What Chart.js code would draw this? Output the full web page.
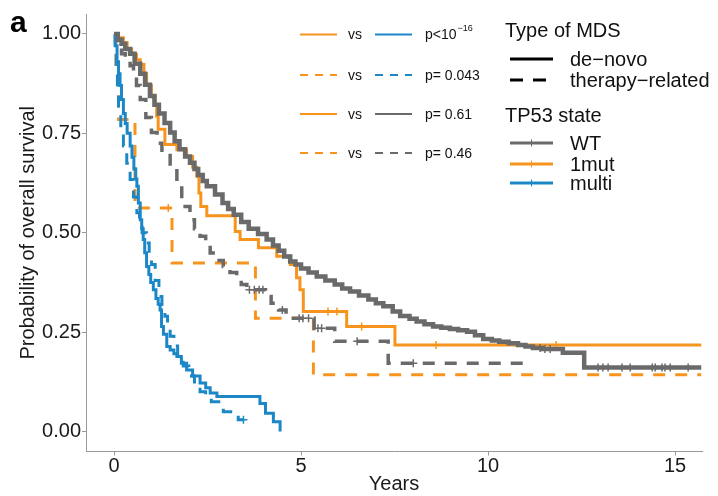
<!DOCTYPE html>
<html>
<head>
<meta charset="utf-8">
<script src="https://cdn.jsdelivr.net/npm/chart.js@4.4.1/dist/chart.umd.min.js"></script>
<style>
  html, body { margin: 0; padding: 0; background: #fff; }
  #wrap { width: 718px; height: 496px; position: relative; }
</style>
</head>
<body>
<div id="wrap"><canvas id="kmChart" width="718" height="496"></canvas></div>
<script>
// Kaplan-Meier estimates: [years, survival]
const wtDeNovo = [[0,1],[0.1,0.985],[0.2,0.975],[0.3,0.962],[0.43,0.95],[0.55,0.925],[0.7,0.9],[0.83,0.872],[0.96,0.844],[1.08,0.822],[1.2,0.8],[1.35,0.776],[1.5,0.752],[1.62,0.73],[1.75,0.71],[1.9,0.692],[2.03,0.676],[2.15,0.66],[2.25,0.645],[2.37,0.63],[2.48,0.617],[2.7,0.596],[2.9,0.575],[3.05,0.56],[3.2,0.545],[3.4,0.527],[3.6,0.51],[3.85,0.497],[4.08,0.483],[4.25,0.468],[4.4,0.455],[4.55,0.44],[4.71,0.428],[4.85,0.42],[5.0,0.41],[5.2,0.4],[5.42,0.39],[5.65,0.38],[5.9,0.37],[6.1,0.36],[6.31,0.352],[6.55,0.342],[6.8,0.332],[7.0,0.323],[7.2,0.315],[7.45,0.302],[7.65,0.291],[7.9,0.284],[8.09,0.277],[8.3,0.27],[8.53,0.264],[8.75,0.261],[8.98,0.258],[9.2,0.255],[9.44,0.251],[9.65,0.242],[9.87,0.233],[10.1,0.229],[10.3,0.226],[10.55,0.222],[10.8,0.218],[11.0,0.214],[11.2,0.21],[11.45,0.208],[12.0,0.198],[12.57,0.161],[15.7,0.161]];
const oneMutDeNovo = [[0,1],[0.1,0.99],[0.25,0.978],[0.35,0.962],[0.47,0.948],[0.6,0.935],[0.7,0.923],[0.8,0.9],[0.87,0.87],[1.0,0.844],[1.1,0.82],[1.14,0.793],[1.18,0.76],[1.36,0.722],[1.68,0.709],[1.94,0.692],[2.1,0.665],[2.21,0.642],[2.27,0.6],[2.32,0.566],[2.48,0.543],[3.24,0.503],[3.37,0.483],[3.86,0.462],[4.35,0.441],[4.71,0.42],[4.88,0.387],[4.97,0.357],[5.06,0.302],[6.22,0.264],[7.51,0.218],[15.7,0.218]];
const multiDeNovo = [[0,1],[0.03,0.97],[0.08,0.93],[0.12,0.9],[0.16,0.87],[0.2,0.835],[0.25,0.8],[0.3,0.775],[0.35,0.75],[0.43,0.718],[0.48,0.69],[0.53,0.66],[0.58,0.635],[0.61,0.617],[0.65,0.575],[0.7,0.533],[0.74,0.51],[0.78,0.483],[0.82,0.45],[0.87,0.415],[0.93,0.395],[0.98,0.375],[1.05,0.357],[1.12,0.335],[1.18,0.32],[1.23,0.306],[1.27,0.264],[1.32,0.245],[1.41,0.214],[1.5,0.205],[1.6,0.196],[1.68,0.189],[1.8,0.172],[1.94,0.155],[2.1,0.14],[2.3,0.122],[2.45,0.11],[2.57,0.097],[2.75,0.088],[3.9,0.071],[4.05,0.046],[4.26,0.025],[4.44,0.0]];
const wtTherapy = [[0,1],[0.1,0.97],[0.2,0.95],[0.3,0.935],[0.43,0.92],[0.52,0.9],[0.6,0.87],[0.7,0.835],[0.85,0.79],[1.0,0.752],[1.15,0.725],[1.28,0.7],[1.5,0.667],[1.68,0.625],[1.81,0.575],[1.9,0.566],[2.03,0.533],[2.15,0.51],[2.3,0.491],[2.45,0.47],[2.57,0.449],[2.75,0.43],[2.92,0.415],[3.1,0.4],[3.28,0.382],[3.4,0.37],[3.55,0.357],[4.05,0.34],[4.2,0.323],[4.4,0.306],[4.6,0.294],[4.7,0.285],[5.35,0.26],[5.9,0.227],[7.33,0.172],[11.0,0.172]];
const oneMutTherapy = [[0,1],[0.05,0.9],[0.12,0.785],[0.56,0.562],[1.55,0.424],[3.78,0.285],[5.33,0.143],[15.7,0.143]];
const multiTherapy = [[0,1],[0.03,0.95],[0.06,0.9],[0.09,0.85],[0.12,0.8],[0.18,0.76],[0.25,0.718],[0.34,0.675],[0.43,0.634],[0.52,0.59],[0.61,0.55],[0.68,0.52],[0.75,0.5],[0.87,0.474],[0.94,0.445],[1.0,0.42],[1.1,0.38],[1.2,0.34],[1.28,0.315],[1.36,0.29],[1.43,0.265],[1.5,0.24],[1.6,0.215],[1.7,0.19],[1.85,0.165],[2.0,0.14],[2.15,0.12],[2.3,0.1],[2.45,0.085],[2.6,0.075],[2.8,0.063],[2.92,0.05],[3.32,0.03],[3.46,0.03]];

// censoring times (years) visible on the curves
const wtDeNovoCensor = [11.39,11.52,11.66,12.94,13.07,13.21,13.58,13.8,14.39,14.47,14.65,14.73,14.87,15.35];
const oneMutDeNovoCensor = [5.72,5.96,6.62,8.61,11.82];
const wtTherapyCensor = [3.62,3.75,3.88,3.98,4.5,4.95,5.05,5.2,5.45,5.55,6.5,8.0];
const oneMutTherapyCensor = [1.45];
const multiTherapyCensor = [3.46];

const xTicks = [0, 5, 10, 15];
const yTicks = [0, 0.25, 0.5, 0.75, 1.0];

const pLabels = ['p<10', 'p= 0.043', 'p= 0.61', 'p= 0.46'];
const mdsTypes = ['de\u2212novo', 'therapy\u2212related'];
const tp53States = ['WT', '1mut', 'multi'];

const GRAY = '#6a6a6a';
const ORANGE = '#f7941e';
const BLUE = '#1b87c6';
const FONT = '"Liberation Sans", Arial, Helvetica, sans-serif';

function toXY(arr) {
    return arr.map(p => ({ x: p[0], y: p[1] }));
}

function survAt(curve, t) {
    let s = curve[0][1];
    curve.forEach(p => { if (p[0] <= t) s = p[1]; });
    return s;
}

function censorPoints(curve, times) {
    return times.map(t => ({ x: t, y: survAt(curve, t) }));
}

function kmLine(data, color, dashed, width) {
    return {
        type: 'line',
        data: toXY(data),
        borderColor: color,
        borderWidth: width || 3,
        borderDash: dashed ? [12, 10] : [],
        stepped: 'before',
        pointRadius: 0,
        fill: false,
        tension: 0
    };
}

function censorSet(curve, times, color) {
    return {
        type: 'scatter',
        data: censorPoints(curve, times),
        pointStyle: 'cross',
        pointRadius: 4,
        borderWidth: 1.5,
        borderColor: color,
        backgroundColor: color
    };
}

// legends drawn on the canvas, ggplot style
const legendPlugin = {
    id: 'kmLegend',
    afterDraw(chart) {
        const ctx = chart.ctx;
        ctx.save();
        ctx.fillStyle = '#000';
        ctx.font = 'bold 30px ' + FONT;
        ctx.textBaseline = 'alphabetic';
        ctx.fillText('a', 10, 32);

        // pairwise comparisons
        const rows = [
            [ORANGE, false, BLUE, false],
            [ORANGE, true, BLUE, true],
            [ORANGE, false, GRAY, false],
            [ORANGE, true, GRAY, true]
        ];
        const rowY = [34.5, 75, 114, 153];
        rows.forEach((r, i) => {
            const y = rowY[i];
            ctx.lineWidth = 2;
            ctx.strokeStyle = r[0];
            ctx.setLineDash(r[1] ? [8, 7] : []);
            ctx.beginPath(); ctx.moveTo(300, y); ctx.lineTo(337, y); ctx.stroke();
            ctx.strokeStyle = r[2];
            ctx.setLineDash(r[3] ? [8, 7] : []);
            ctx.beginPath(); ctx.moveTo(375, y); ctx.lineTo(412, y); ctx.stroke();
            ctx.setLineDash([]);
            ctx.fillStyle = '#111';
            ctx.font = '14px ' + FONT;
            ctx.textBaseline = 'middle';
            ctx.fillText('vs', 348, y + 1);
            ctx.fillText(pLabels[i], 425, y + 1);
            if (i === 0) {
                const w = ctx.measureText(pLabels[i]).width;
                ctx.font = '9px ' + FONT;
                ctx.fillText('\u221216', 425 + w + 1, y - 6);
            }
        });

        // Type of MDS
        ctx.fillStyle = '#111';
        ctx.textBaseline = 'middle';
        ctx.font = '20px ' + FONT;
        ctx.fillText('Type of MDS', 505, 31);
        const mdsY = [59, 80];
        mdsTypes.forEach((t, i) => {
            ctx.strokeStyle = '#000';
            ctx.lineWidth = 3;
            ctx.setLineDash(i === 1 ? [13, 10] : []);
            ctx.beginPath(); ctx.moveTo(510, mdsY[i]); ctx.lineTo(553, mdsY[i]); ctx.stroke();
            ctx.setLineDash([]);
            ctx.font = '20px ' + FONT;
            ctx.fillText(t, 570, mdsY[i] + 1);
        });

        // TP53 state
        ctx.fillText('TP53 state', 505, 116);
        const tpY = [143, 164, 183];
        const tpCol = [GRAY, ORANGE, BLUE];
        tp53States.forEach((t, i) => {
            ctx.strokeStyle = tpCol[i];
            ctx.lineWidth = 3;
            ctx.beginPath(); ctx.moveTo(510, tpY[i]); ctx.lineTo(553, tpY[i]); ctx.stroke();
            ctx.lineWidth = 1;
            ctx.beginPath(); ctx.moveTo(531.5, tpY[i] - 3.5); ctx.lineTo(531.5, tpY[i] + 3.5); ctx.stroke();
            ctx.fillStyle = '#111';
            ctx.font = '20px ' + FONT;
            ctx.fillText(t, 570, tpY[i] + 1);
        });
        ctx.restore();
    }
};

const ctx = document.getElementById('kmChart').getContext('2d');
new Chart(ctx, {
    data: {
        datasets: [
            censorSet(wtDeNovo, wtDeNovoCensor, GRAY),
            kmLine(wtDeNovo, GRAY, false, 4.5),
            censorSet(oneMutDeNovo, oneMutDeNovoCensor, ORANGE),
            kmLine(oneMutDeNovo, ORANGE, false),
            kmLine(multiDeNovo, BLUE, false),
            censorSet(wtTherapy, wtTherapyCensor, GRAY),
            kmLine(wtTherapy, GRAY, true, 3.5),
            censorSet(multiTherapy, multiTherapyCensor, BLUE),
            kmLine(multiTherapy, BLUE, true),
            censorSet(oneMutTherapy, oneMutTherapyCensor, ORANGE),
            kmLine(oneMutTherapy, ORANGE, true)
        ]
    },
    options: {
        responsive: false,
        animation: false,
        events: [],
        layout: { padding: { top: 14, right: 16, left: 0, bottom: 0 } },
        plugins: {
            legend: { display: false },
            tooltip: { enabled: false }
        },
        scales: {
            x: {
                type: 'linear',
                min: -0.75,
                max: 15.72,
                afterBuildTicks: s => { s.ticks = xTicks.map(v => ({ value: v })); },
                afterFit: s => { s.height = 44.5; },
                grid: { drawOnChartArea: false, drawTicks: true, tickLength: 4, color: '#999' },
                border: { display: true, color: '#999', width: 1 },
                ticks: { color: '#1a1a1a', font: { family: FONT, size: 20 }, padding: -1, maxRotation: 0 },
                title: { display: true, text: 'Years', color: '#1a1a1a', font: { family: FONT, size: 20 }, padding: { top: 0, bottom: 0 } }
            },
            y: {
                type: 'linear',
                min: -0.05,
                max: 1.05,
                afterBuildTicks: s => { s.ticks = yTicks.map(v => ({ value: v })); },
                afterFit: s => { s.width = 86; },
                grid: { drawOnChartArea: false, drawTicks: true, tickLength: 4, color: '#999' },
                border: { display: true, color: '#999', width: 1 },
                ticks: {
                    color: '#1a1a1a',
                    font: { family: FONT, size: 20 },
                    padding: 1,
                    callback: v => v.toFixed(2)
                },
                title: { display: true, text: 'Probability of overall survival', color: '#1a1a1a', font: { family: FONT, size: 20 }, padding: { top: 16, bottom: 0 } }
            }
        }
    },
    plugins: [legendPlugin]
});
</script>
</body>
</html>
